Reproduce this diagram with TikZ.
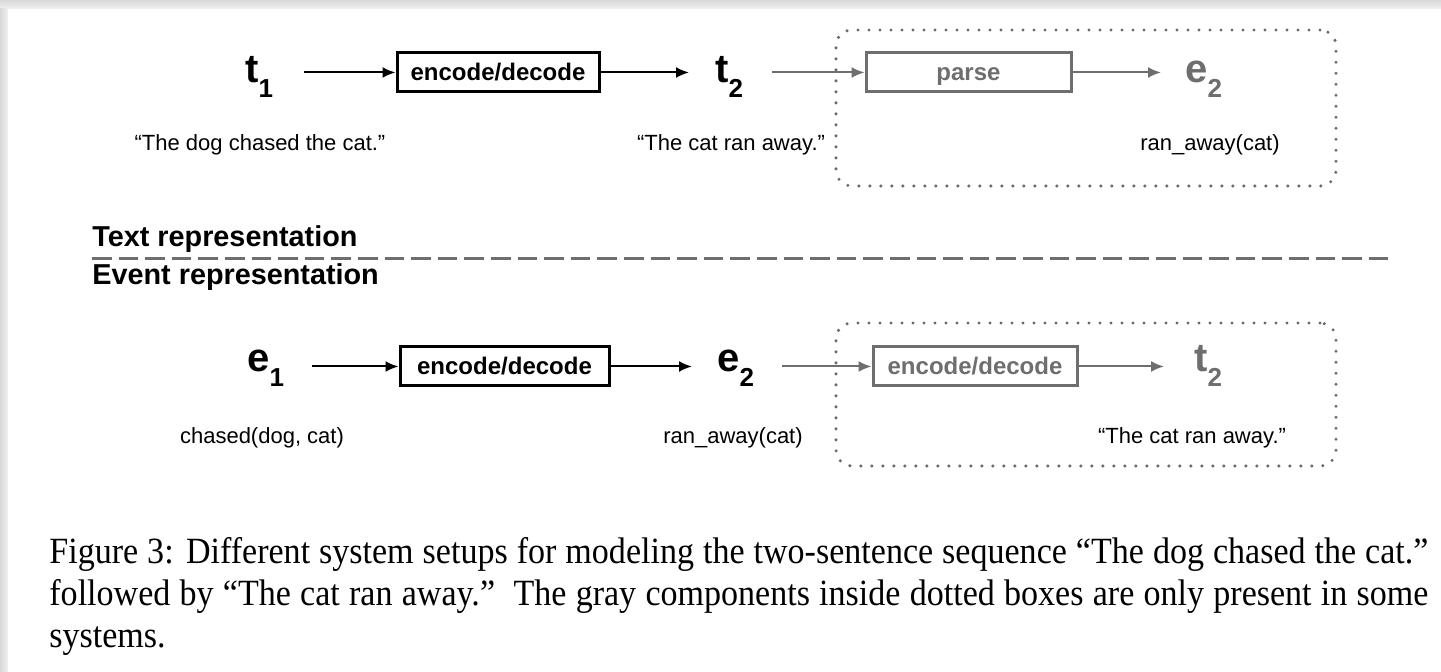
\documentclass[tikz,border=0pt]{standalone}
\usepackage{fontspec}
\setmainfont{Liberation Serif}
\newfontfamily\capfont[FakeStretch=0.92]{Liberation Serif}
\newfontfamily\arialf{Liberation Sans}
\usetikzlibrary{arrows.meta}
\definecolor{gr}{HTML}{6E6E6E}
\definecolor{dotgr}{HTML}{6A6A6A}
\newcommand{\symb}[2]{{\fontsize{20}{20}\selectfont\bfseries #1}\raisebox{-7.5pt}{\fontsize{13}{13}\selectfont\bfseries #2}}
\tikzset{
  sym/.style={inner sep=0pt, anchor=base west, font=\arialf},
  lbl/.style={inner sep=0pt, anchor=base, font=\arialf\fontsize{11}{13}\selectfont},
  box/.style={draw, line width=1.5pt, inner sep=0pt, text height=10.5pt, text depth=2.5pt, font=\arialf\bfseries\fontsize{12}{14}\selectfont},
  graybox/.style={box, draw=gr, text=gr},
  arr/.style={-{Latex[length=6.5pt,width=5.5pt]}, line width=1pt},
  grayarr/.style={arr, draw=gr},
  dotbox/.style={draw=dotgr, line width=1.7pt, line cap=round, dash pattern=on 0pt off 5.5pt, rounded corners=8pt, inner sep=0pt},
  head/.style={inner sep=0pt, anchor=base west, font=\arialf\bfseries\fontsize{14.4}{16}\selectfont},
  dashline/.style={draw=gr, line width=1.5pt, dash pattern=on 9.8pt off 3.5pt},
  captxt/.style={inner sep=0pt, anchor=base west, font=\capfont\fontsize{18.5}{21}\selectfont}
}
\begin{document}
\begin{tikzpicture}[x=0.5pt, y=-0.5pt]
\useasboundingbox (0,0) rectangle (1441,672);
\fill[gray!22] (0,0) rectangle (1441,672);
\shade[top color=gray!30, bottom color=gray!12] (0,0) rectangle (1441,9);
\shade[left color=gray!30, right color=gray!12] (0,9) rectangle (8,672);
\fill[white] (8,9) rectangle (1441,672);

% ---- top row ----
\node[dotbox, minimum width=250pt, minimum height=78pt] (fr1) at (1086,108) {};
\node[sym] (t1) at (245,83) {\symb{t}{1}};
\node[box, minimum width=101pt, minimum height=19.5pt] (b1) at (498,72.5) {encode/decode};
\node[sym] (t2) at (715,83) {\symb{t}{2}};
\node[graybox, minimum width=102.5pt, minimum height=19.5pt] (p1) at (968.5,72.5) {parse};
\node[sym, text=gr] (e2a) at (1185,83) {\symb{e}{2}};
\draw[arr] ([xshift=15pt]t1.east |- b1.west) -- (b1.west);
\draw[arr] (b1.east) -- ([xshift=-13pt]t2.west |- b1.east);
\draw[grayarr] ([xshift=14pt]t2.east |- p1.west) -- (p1.west);
\draw[grayarr] (p1.east) -- ([xshift=-12pt]e2a.west |- p1.east);
\node[lbl] (l1) at (260,151) {“The dog chased the cat.”};
\node[lbl] (l2) at (731,151) {“The cat ran away.”};
\node[lbl] (l3) at (1210,151) {ran\_away(cat)};

% ---- divider ----
\node[head] (h1) at (92,247) {Text representation};
\node[head] (h2) at (92,285) {Event representation};
\coordinate (dl) at (92,259);
\coordinate (dr) at (1392,259);
\draw[dashline] (dl) -- (dr);

% ---- bottom row ----
\node[dotbox, minimum width=250pt, minimum height=71.5pt] (fr2) at (1086,394.5) {};
\node[sym] (e1) at (247,372) {\symb{e}{1}};
\node[box, minimum width=104.5pt, minimum height=19.5pt] (b2) at (504.5,366.5) {encode/decode};
\node[sym] (e2) at (717,372) {\symb{e}{2}};
\node[graybox, minimum width=102pt, minimum height=19.5pt] (b3) at (975,366.5) {encode/decode};
\node[sym, text=gr] (t2b) at (1194,372) {\symb{t}{2}};
\draw[arr] ([xshift=13.5pt]e1.east |- b2.west) -- (b2.west);
\draw[arr] (b2.east) -- ([xshift=-12.5pt]e2.west |- b2.east);
\draw[grayarr] ([xshift=13.5pt]e2.east |- b3.west) -- (b3.west);
\draw[grayarr] (b3.east) -- ([xshift=-15pt]t2b.west |- b3.east);
\node[lbl] (l4) at (262,444) {chased(dog, cat)};
\node[lbl] (l5) at (733,444) {ran\_away(cat)};
\node[lbl] (l6) at (1192,444) {“The cat ran away.”};

% ---- caption ----
\node[captxt] (c1) at (49,564) {\makebox[689.5pt][s]{Figure 3: Different system setups for modeling the two-sentence sequence “The dog chased the cat.”}};
\node[captxt] (c2) at (49,606) {\makebox[689.5pt][s]{followed by “The cat ran away.”\ \ The gray components inside dotted boxes are only present in some}};
\node[captxt] (c3) at (49,648) {systems.};
\end{tikzpicture}
\end{document}
